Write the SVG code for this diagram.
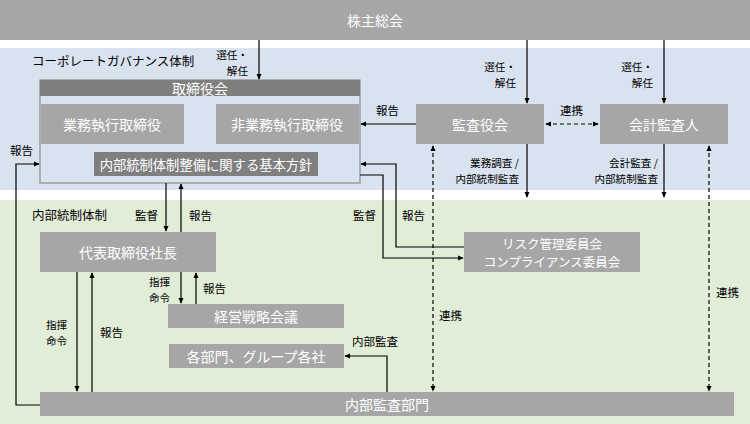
<svg xmlns="http://www.w3.org/2000/svg" width="750" height="424" viewBox="0 0 750 424">
<defs>
<style>
.t{font-family:"Noto Sans CJK JP","Noto Sans CJK SC",sans-serif;font-size:11.5px;fill:#000}
.s{font-family:"Noto Sans CJK JP","Noto Sans CJK SC",sans-serif;font-size:10.6px;fill:#000}
.h{font-family:"Noto Sans CJK JP","Noto Sans CJK SC",sans-serif;font-size:12.5px;fill:#000}
.w{font-family:"Noto Sans CJK JP","Noto Sans CJK SC",sans-serif;font-size:14px;fill:#fff;text-anchor:middle;dominant-baseline:central}
.box{fill:#a6a6a6}
.dark{fill:#7f7f7f}
.ln{fill:none;stroke:#000;stroke-width:1.2}
.ds{fill:none;stroke:#000;stroke-width:1.2;stroke-dasharray:4 3}
</style>
<marker id="ah" viewBox="0 0 8 8" refX="7" refY="4" markerWidth="6" markerHeight="6" orient="auto-start-reverse" markerUnits="userSpaceOnUse"><path d="M0,0.5 L8,4 L0,7.5 z" fill="#000"/></marker>
</defs>
<rect x="0" y="48" width="750" height="142" fill="#d9e2ef"/>
<rect x="0" y="200" width="750" height="224" fill="#e2edd8"/>
<text class="h" x="32" y="66">コーポレートガバナンス体制</text>
<text class="h" x="32" y="220">内部統制体制</text>

<g id="shareholders"><rect class="box" x="0" y="0" width="750" height="40"/><text class="w" x="375" y="20">株主総会</text></g>
<g id="board">
<rect x="40" y="80" width="320" height="103" fill="#d9e2ef" stroke="#8c8c8c" stroke-width="1.2"/>
<rect class="dark" x="40" y="80" width="320" height="16"/><text class="w" x="200" y="88">取締役会</text>
</g>
<g id="exec"><rect class="box" x="41" y="104" width="143" height="40"/><text class="w" x="112" y="124">業務執行取締役</text></g>
<g id="nonexec"><rect class="box" x="216" y="104" width="143" height="40"/><text class="w" x="287" y="124">非業務執行取締役</text></g>
<g id="policy"><rect class="dark" x="94" y="152" width="224" height="24"/><text class="w" x="206" y="164" style="font-size:13.3px">内部統制体制整備に関する基本方針</text></g>
<g id="auditboard"><rect class="box" x="416" y="104" width="128" height="40"/><text class="w" x="480" y="124">監査役会</text></g>
<g id="accountant"><rect class="box" x="600" y="104" width="128" height="40"/><text class="w" x="664" y="124">会計監査人</text></g>
<g id="president"><rect class="box" x="40" y="232" width="176" height="40"/><text class="w" x="128" y="252">代表取締役社長</text></g>
<g id="risk"><rect class="box" x="464" y="232" width="176" height="40"/><text class="w" x="552" y="243" style="font-size:12.5px">リスク管理委員会</text><text class="w" x="552" y="261.2" style="font-size:12.5px">コンプライアンス委員会</text></g>
<g id="strategy"><rect class="box" x="168" y="304" width="176" height="24"/><text class="w" x="256" y="316">経営戦略会議</text></g>
<g id="divisions"><rect class="box" x="169" y="344" width="175" height="24"/><text class="w" x="256" y="356">各部門、グループ各社</text></g>
<g id="internalaudit"><rect class="box" x="40" y="392" width="694" height="24"/><text class="w" x="387" y="404">内部監査部門</text></g>

<g id="connectors">
<path class="ln" d="M259,40 V79" marker-end="url(#ah)"/>
<path class="ln" d="M527,40 V103" marker-end="url(#ah)"/>
<path class="ln" d="M664,40 V103" marker-end="url(#ah)"/>
<path class="ds" d="M546,124 H598" marker-start="url(#ah)" marker-end="url(#ah)"/>
<path class="ln" d="M416,124 H361" marker-end="url(#ah)"/>
<path class="ln" d="M527,144 V197" marker-end="url(#ah)"/>
<path class="ln" d="M664,144 V197" marker-end="url(#ah)"/>
<path class="ds" d="M433,146 V391" marker-start="url(#ah)" marker-end="url(#ah)"/>
<path class="ds" d="M709,146 V391" marker-start="url(#ah)" marker-end="url(#ah)"/>
<path class="ln" d="M360,175 H383 V258 H463" marker-end="url(#ah)"/>
<path class="ln" d="M464,247 H396 V164 H361" marker-end="url(#ah)"/>
<path class="ln" d="M166,183 V231" marker-end="url(#ah)"/>
<path class="ln" d="M181,232 V184" marker-end="url(#ah)"/>
<path class="ln" d="M181,272 V303" marker-end="url(#ah)"/>
<path class="ln" d="M196,304 V273" marker-end="url(#ah)"/>
<path class="ln" d="M77,272 V391" marker-end="url(#ah)"/>
<path class="ln" d="M92,392 V273" marker-end="url(#ah)"/>
<path class="ln" d="M40,405 H16 V164 H39" marker-end="url(#ah)"/>
<path class="ln" d="M387,392 V356 H345" marker-end="url(#ah)"/>
</g>

<g id="labels">
<text class="s" text-anchor="end"><tspan x="248" y="59">選任・</tspan><tspan x="248" y="75">解任</tspan></text>
<text class="s" text-anchor="end"><tspan x="516" y="71">選任・</tspan><tspan x="516" y="87">解任</tspan></text>
<text class="s" text-anchor="end"><tspan x="653" y="71">選任・</tspan><tspan x="653" y="87">解任</tspan></text>
<text class="t" x="376" y="115">報告</text>
<text class="t" x="560" y="115">連携</text>
<text class="s" text-anchor="end"><tspan x="519" y="167">業務調査 /</tspan><tspan x="519" y="183">内部統制監査</tspan></text>
<text class="s" text-anchor="end"><tspan x="658" y="167">会計監査 /</tspan><tspan x="658" y="183">内部統制監査</tspan></text>
<text class="t" x="10" y="155">報告</text>
<text class="t" x="135" y="220">監督</text>
<text class="t" x="189" y="220">報告</text>
<text class="t" x="353" y="220">監督</text>
<text class="t" x="402" y="220">報告</text>
<text class="s"><tspan x="149" y="286">指揮</tspan><tspan x="149" y="302">命令</tspan></text>
<text class="t" x="203" y="293">報告</text>
<text class="s"><tspan x="46" y="329">指揮</tspan><tspan x="46" y="345">命令</tspan></text>
<text class="t" x="100" y="337">報告</text>
<text class="t" x="352" y="346">内部監査</text>
<text class="t" x="439" y="320">連携</text>
<text class="t" x="716" y="297">連携</text>
</g>
</svg>
